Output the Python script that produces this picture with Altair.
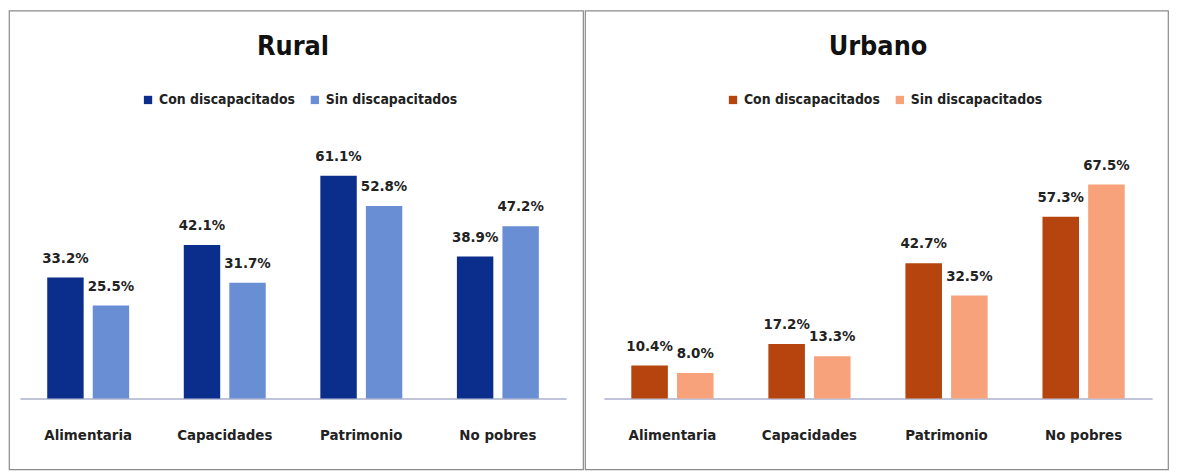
import altair as alt
import pandas as pd

categories = ["Alimentaria", "Capacidades", "Patrimonio", "No pobres"]
series = ["Con discapacitados", "Sin discapacitados"]
rural_con = [33.2, 42.1, 61.1, 38.9]
rural_sin = [25.5, 31.7, 52.8, 47.2]
urbano_con = [10.4, 17.2, 42.7, 57.3]
urbano_sin = [8.0, 13.3, 32.5, 67.5]

rural_colors = ["#0b2d8c", "#6a8ed3"]
urbano_colors = ["#b5440e", "#f8a27b"]

FONT = "DejaVu Sans Condensed, Liberation Sans Narrow, sans-serif"
TXT = "#222222"
VIEW_H = 462


def make_df(con, sin):
    rows = []
    for c, a, b in zip(categories, con, sin):
        rows.append({"cat": c, "serie": series[0], "val": a})
        rows.append({"cat": c, "serie": series[1], "val": b})
    df = pd.DataFrame(rows)
    df["label"] = df["val"].map(lambda v: f"{v:.1f}%")
    return df


def panel(df, title, colors, vw, xrange, ydomain, yrange, legx, titlex):
    base_y = yrange[0]
    x = alt.X(
        "cat:N",
        sort=categories,
        scale=alt.Scale(range=xrange, paddingInner=0.4, paddingOuter=0.2),
        axis=alt.Axis(
            title=None,
            orient="bottom",
            offset=base_y - VIEW_H,
            ticks=False,
            grid=False,
            domainColor="#aab0cc",
            domainWidth=1.5,
            labelFont=FONT,
            labelFontSize=15,
            labelFontWeight="bold",
            labelColor=TXT,
            labelBaseline="alphabetic",
            labelPadding=41,
            labelAngle=0,
        ),
    )
    xo = alt.XOffset("serie:N", sort=series, scale=alt.Scale(paddingInner=0.2))
    y = alt.Y("val:Q", scale=alt.Scale(domain=ydomain, range=yrange), axis=None)
    color = alt.Color(
        "serie:N",
        sort=series,
        scale=alt.Scale(domain=series, range=colors),
        legend=alt.Legend(
            title=None,
            orient="none",
            legendX=legx,
            legendY=83,
            direction="horizontal",
            symbolType="square",
            symbolSize=70,
            symbolStrokeWidth=0,
            labelFont=FONT,
            labelFontSize=14,
            labelFontWeight="bold",
            labelColor=TXT,
            columnPadding=12,
            labelOffset=4,
        ),
    )
    base = alt.Chart(df)
    bars = base.mark_bar().encode(x=x, xOffset=xo, y=y, color=color)
    labels = base.mark_text(
        font=FONT, fontSize=15, fontWeight="bold", color=TXT,
        baseline="alphabetic", dy=-15,
    ).encode(x=x, xOffset=xo, y=y, text="label:N")
    ttl = alt.Chart(pd.DataFrame({"t": [title]})).mark_text(
        font=FONT, fontSize=27, fontWeight="bold", color="#111111",
        baseline="alphabetic", align="center",
    ).encode(x=alt.value(titlex), y=alt.value(45), text="t:N")
    return alt.layer(bars, labels, ttl).properties(width=vw, height=VIEW_H)


left = panel(make_df(rural_con, rural_sin), "Rural", rural_colors, 578,
             [11, 561], [0, 70], [390.5, 133.6], 133, 286)
right = panel(make_df(urbano_con, urbano_sin), "Urbano", urbano_colors, 587,
              [19, 571], [0, 80], [390.5, 135.3], 142, 295)

chart = (
    alt.hconcat(left, right, spacing=0)
    .resolve_scale(color="independent", y="independent", x="independent", xOffset="independent")
    .properties(padding=0, background="white")
    .configure_view(stroke="#8a8a8a", strokeWidth=1.2, fill="white")
)

chart.save("out.html", embed_options={"renderer": "svg", "actions": False})
